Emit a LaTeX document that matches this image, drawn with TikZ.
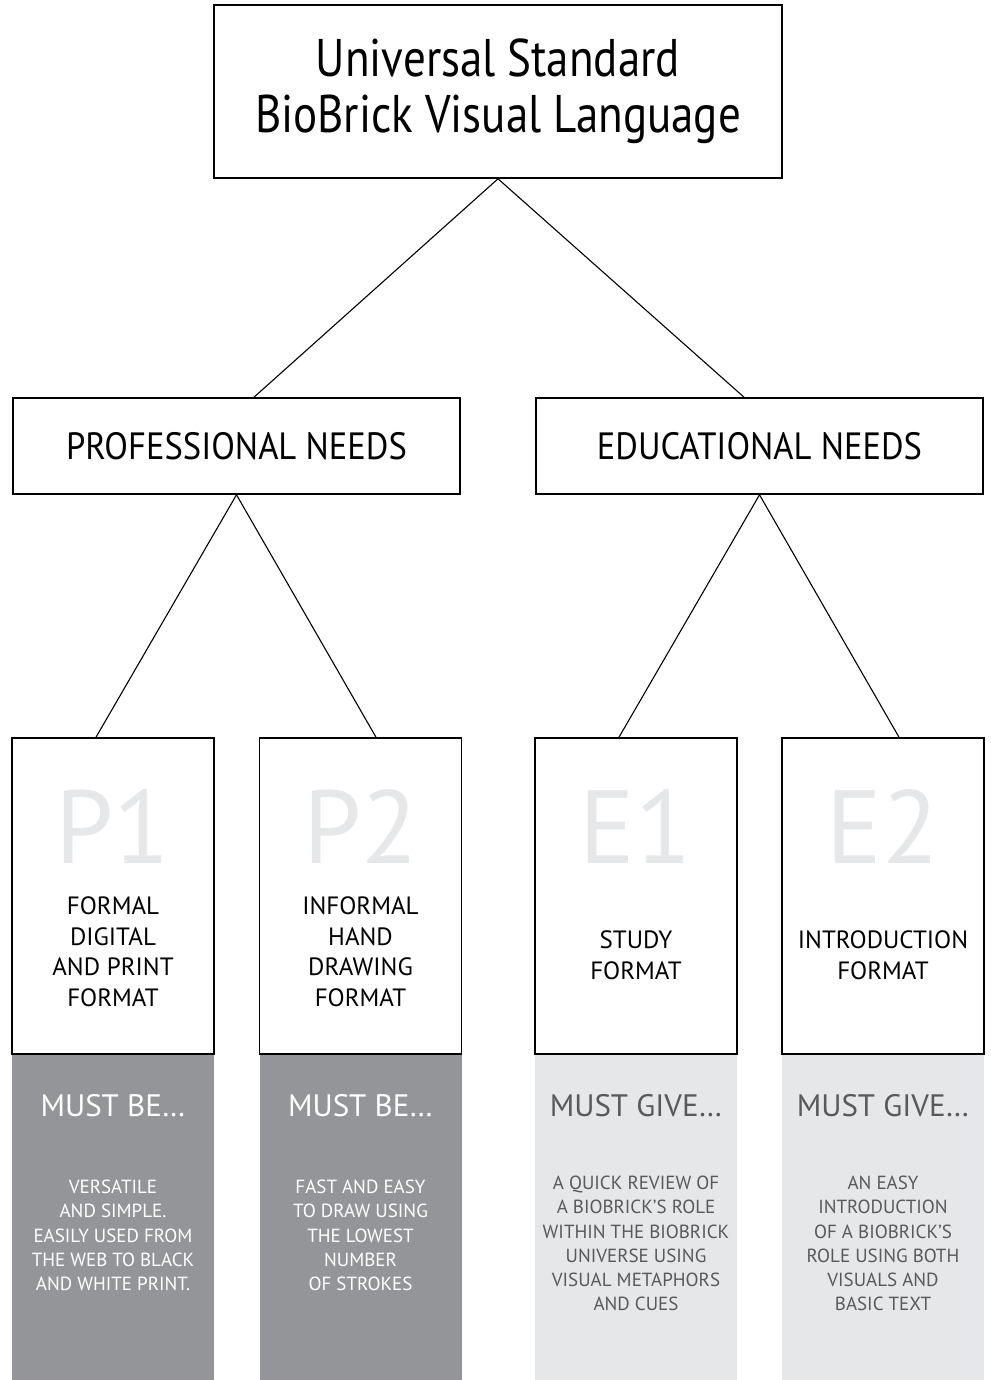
\documentclass[tikz,border=0pt]{standalone}
\usepackage{fontspec}
\setmainfont{PT Sans}
\newfontfamily\narrowfont[FakeStretch=0.85]{PT Sans}
\newfontfamily\branchfont[FakeStretch=0.91]{PT Sans}
\usetikzlibrary{positioning}

\definecolor{panelDark}{HTML}{939598}
\definecolor{panelLight}{HTML}{E6E7E8}
\definecolor{inkGrey}{HTML}{58595B}

\tikzset{
  box/.style={draw=black,line width=1.6pt,fill=white,inner sep=0pt},
  link/.style={draw=black,line width=1.1pt},
  panel/.style={draw=none,inner sep=0pt,minimum width=202pt,minimum height=326pt},
  bignum/.style={text=panelLight,font=\fontsize{104}{104}\selectfont},
  label/.style={align=center,font=\fontsize{25}{30.5}\selectfont},
  heading/.style={font=\fontsize{31}{31}\selectfont},
  body/.style={align=center,font=\fontsize{19}{24.2}\selectfont}
}

\begin{document}
\begin{tikzpicture}[x=1pt,y=-1pt]
\useasboundingbox[fill=white] (0,0) rectangle (990,1380);

% title and the two branches
\node[box,minimum width=568pt,minimum height=173pt,align=center,
  font=\narrowfont\fontsize{53}{56}\selectfont] (top) at (498,91.5)
  {Universal Standard\\BioBrick Visual Language};
\node[box,minimum width=447pt,minimum height=96pt,font=\branchfont\fontsize{38}{38}\selectfont]
  (prof) at (236.5,446) {PROFESSIONAL NEEDS};
\node[box,minimum width=447pt,minimum height=96pt,font=\branchfont\fontsize{38}{38}\selectfont]
  (edu) at (759.5,446) {EDUCATIONAL NEEDS};

% grey panels under the formats
\node[panel,fill=panelDark] (p1panel) at (113,1217) {};
\node[panel,fill=panelDark] (p2panel) at (360.5,1217) {};
\node[panel,fill=panelLight] (e1panel) at (636,1217) {};
\node[panel,fill=panelLight] (e2panel) at (883,1217) {};

% format boxes
\node[box,minimum width=202pt,minimum height=316pt] (p1) at (113,896) {};
\node[box,minimum width=202pt,minimum height=316pt] (p2) at (360.5,896) {};
\node[box,minimum width=202pt,minimum height=316pt] (e1) at (636,896) {};
\node[box,minimum width=202pt,minimum height=316pt] (e2) at (883,896) {};

\draw[link] (top.south) -- ([xshift=17.5]prof.north);
\draw[link] (top.south) -- ([xshift=-15.5]edu.north);
\draw[link] (prof.south) -- ([xshift=-17]p1.north);
\draw[link] (prof.south) -- ([xshift=15.5]p2.north);
\draw[link] (edu.south) -- ([xshift=-17]e1.north);
\draw[link] (edu.south) -- ([xshift=16]e2.north);

% P1
\node[bignum] (p1num) at (113,826) {P1};
\node[label] (p1label) at (113,951.5) {FORMAL\\DIGITAL\\AND PRINT\\FORMAT};
\node[heading,text=white] (p1head) at (113,1106) {MUST BE…};
\node[body,text=white] (p1body) at (113,1235.5)
  {VERSATILE\\AND SIMPLE.\\EASILY USED FROM\\THE WEB TO BLACK\\AND WHITE PRINT.};

% P2
\node[bignum] (p2num) at (360.5,826) {P2};
\node[label] (p2label) at (360.5,951.5) {INFORMAL\\HAND\\DRAWING\\FORMAT};
\node[heading,text=white] (p2head) at (360.5,1106) {MUST BE…};
\node[body,text=white] (p2body) at (360.5,1235.5)
  {FAST AND EASY\\TO DRAW USING\\THE LOWEST\\NUMBER\\OF STROKES};

% E1
\node[bignum] (e1num) at (636,826) {E1};
\node[label] (e1label) at (636,955) {STUDY\\FORMAT};
\node[heading,text=inkGrey] (e1head) at (636,1106) {MUST GIVE…};
\node[body,text=inkGrey] (e1body) at (636,1243.5)
  {A QUICK REVIEW OF\\A BIOBRICK’S ROLE\\WITHIN THE BIOBRICK\\UNIVERSE USING\\VISUAL METAPHORS\\AND CUES};

% E2
\node[bignum] (e2num) at (883,826) {E2};
\node[label] (e2label) at (883,955) {INTRODUCTION\\FORMAT};
\node[heading,text=inkGrey] (e2head) at (883,1106) {MUST GIVE…};
\node[body,text=inkGrey] (e2body) at (883,1243.5)
  {AN EASY\\INTRODUCTION\\OF A BIOBRICK’S\\ROLE USING BOTH\\VISUALS AND\\BASIC TEXT};

\end{tikzpicture}
\end{document}
